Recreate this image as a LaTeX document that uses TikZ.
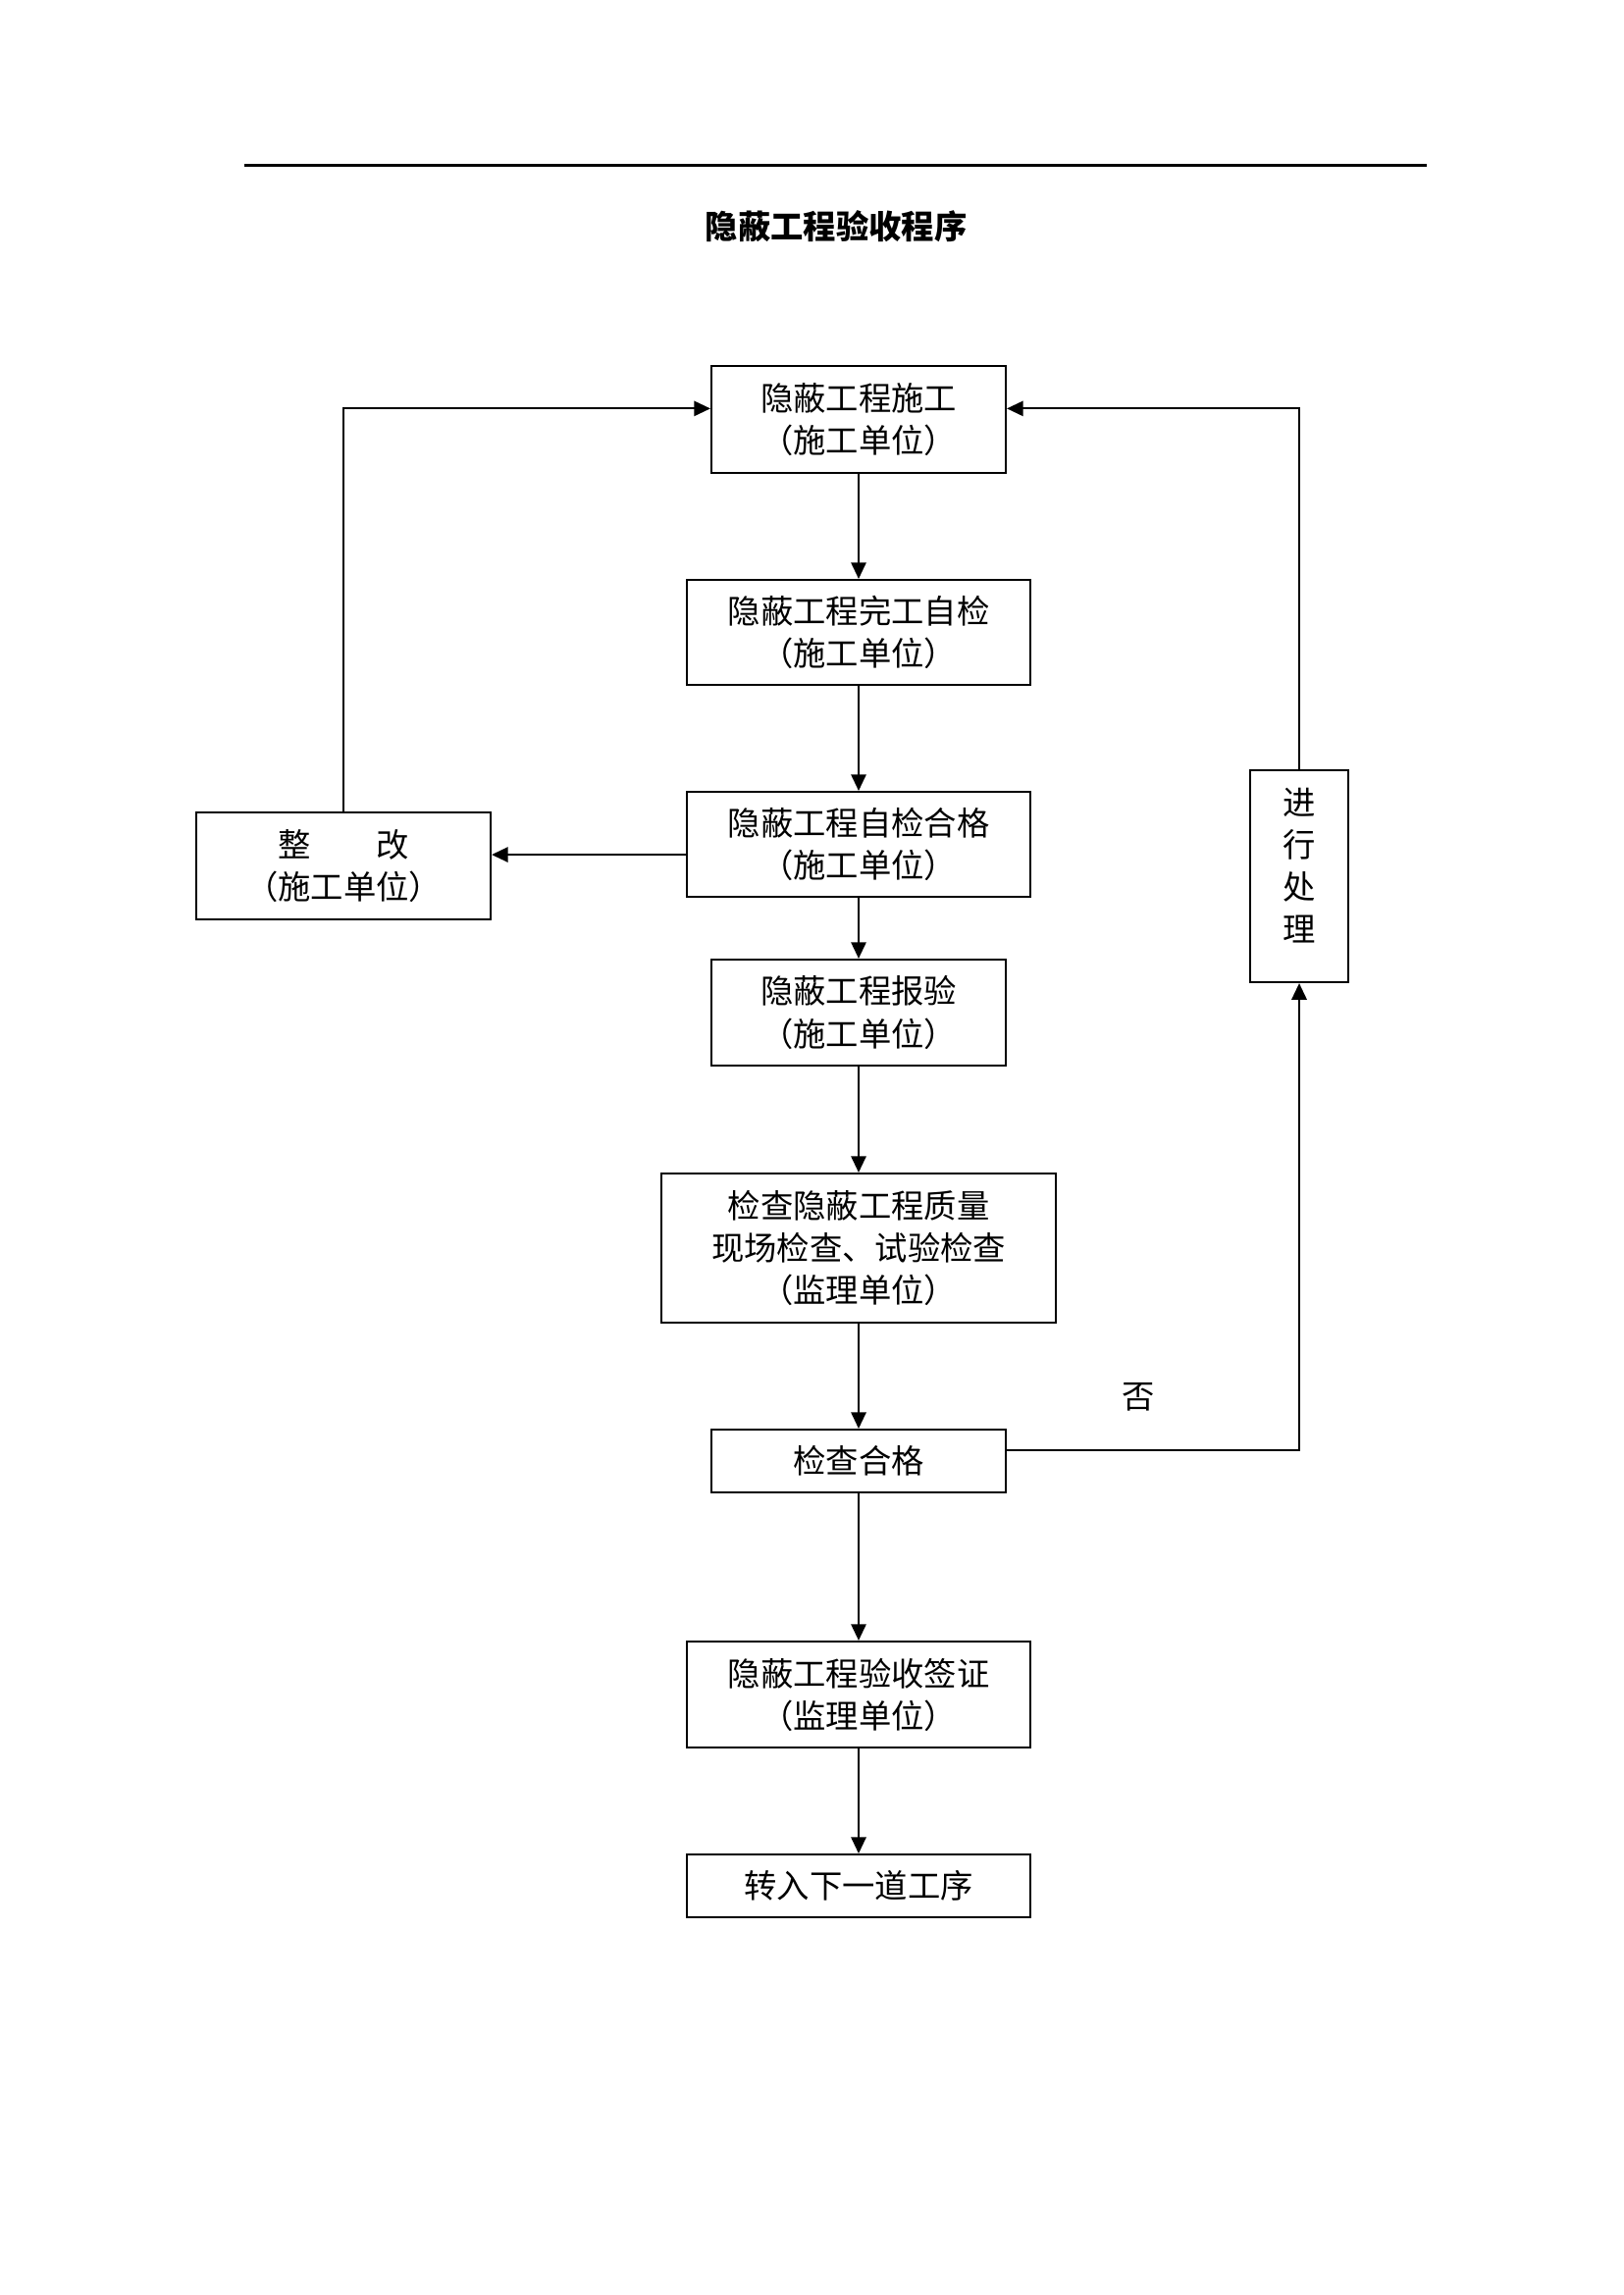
\documentclass[tikz,border=0pt]{standalone}
\usepackage{fontspec}
\setmainfont{Noto Sans CJK SC}
\usetikzlibrary{arrows.meta}
\begin{document}
\begin{tikzpicture}[x=0.36bp,y=-0.36bp,
  box/.style={draw,line width=0.75pt,rectangle,inner sep=0pt,align=center,
    font=\fontsize{12bp}{15.5bp}\selectfont},
  arr/.style={line width=0.75pt,-{Triangle[length=6bp,width=5.5bp]}},
  lbl/.style={font=\fontsize{12bp}{15.5bp}\selectfont}]
\useasboundingbox (0,0) rectangle (1654,2339);
\coordinate (hl) at (249,168.5);
\coordinate (hr) at (1454,168.5);
\draw[line width=1.2pt] (hl) -- (hr);
\node[font=\bfseries\fontsize{12bp}{14bp}\selectfont] (title) at (852,231) {隐蔽工程验收程序};

\node[box,minimum width=108bp,minimum height=39.2bp] (b1) at (875,427.5) {隐蔽工程施工\\（施工单位）};
\node[box,minimum width=126bp,minimum height=38.5bp] (b2) at (875,644.5) {隐蔽工程完工自检\\（施工单位）};
\node[box,minimum width=126bp,minimum height=38.5bp] (b3) at (875,860.5) {隐蔽工程自检合格\\（施工单位）};
\node[box,minimum width=108bp,minimum height=38.9bp] (b4) at (875,1032) {隐蔽工程报验\\（施工单位）};
\node[box,minimum width=144.4bp,minimum height=54.7bp] (b5) at (875,1272) {检查隐蔽工程质量\\现场检查、试验检查\\（监理单位）};
\node[box,minimum width=108bp,minimum height=23bp] (b6) at (875,1489) {检查合格};
\node[box,minimum width=126bp,minimum height=38.9bp] (b7) at (875,1727) {隐蔽工程验收签证\\（监理单位）};
\node[box,minimum width=126bp,minimum height=23bp] (b8) at (875,1922) {转入下一道工序};
\node[box,minimum width=108bp,minimum height=39.2bp] (lb) at (350,882.5) {整　　改\\（施工单位）};
\node[box,minimum width=36bp,minimum height=77.8bp,
  label={[lbl,align=center,yshift=3.8bp]center:进\\行\\处\\理}] (rb) at (1324,893) {};
\node[lbl] (no) at (1160,1424) {否};

\draw[arr] (b1) -- (b2);
\draw[arr] (b2) -- (b3);
\draw[arr] (b3) -- (b4);
\draw[arr] (b4) -- (b5);
\draw[arr] (b5) -- (b6);
\draw[arr] (b6) -- (b7);
\draw[arr] (b7) -- (b8);
\draw[arr] ([yshift=-3.8bp]b3.west) -- ([yshift=-3.8bp]b3.west -| lb.east);
\draw[arr] (lb.north) |- ([yshift=4bp]b1.west);
\draw[arr] (rb.north) |- ([yshift=4bp]b1.east);
\draw[arr] ([yshift=4bp]b6.east) -| (rb.south);
\end{tikzpicture}
\end{document}
